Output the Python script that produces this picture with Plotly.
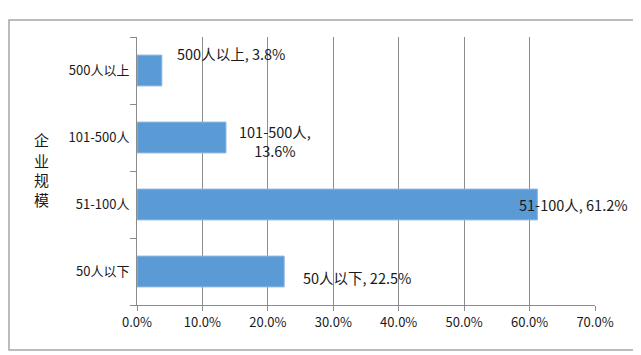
import plotly.graph_objects as go

categories = ["50人以下", "51-100人", "101-500人", "500人以上"]
values = [22.5, 61.2, 13.6, 3.8]
label_texts = ["50人以下, 22.5%", "51-100人, 61.2%", "101-500人,<br>13.6%", "500人以上, 3.8%"]
x_ticks = [0, 10, 20, 30, 40, 50, 60, 70]
x_tick_labels = ["0.0%", "10.0%", "20.0%", "30.0%", "40.0%", "50.0%", "60.0%", "70.0%"]
axis_title = "企业规模"

FONT = "Noto Sans CJK SC, Noto Sans, sans-serif"
# label placement offsets (style): (xanchor, xshift, yshift)
label_style = [("left", 17, -6), ("left", -20, 0), ("left", 11, -3), ("left", 13, 17)]

# figure size kept inside the viewport (page body has an 8px margin)
W, H = 633, 347
L, R, T, B = 129, 587, 29, 297
PW, PH = R - L, B - T

fig = go.Figure()
fig.add_trace(go.Bar(
    x=values, y=categories, orientation="h",
    marker=dict(color="#5B9BD5", line=dict(color="#8DB8E2", width=1)),
    hoverinfo="skip",
))

for cat, val, txt, (xa, xs, ys) in zip(categories, values, label_texts, label_style):
    fig.add_annotation(
        x=val, y=cat, xref="x", yref="y", text=txt, showarrow=False,
        xanchor=xa, xshift=xs, yshift=ys, align="center",
        font=dict(family=FONT, size=14.5, color="#1a1a1a"),
    )

# vertical axis title, one character per line
title_y_px = [131, 152, 172, 192]
for ch, ypx in zip(axis_title, title_y_px):
    fig.add_annotation(
        x=(33 - L) / PW, y=(B - ypx) / PH, xref="paper", yref="paper",
        text=ch, showarrow=False, xanchor="center", yanchor="middle",
        font=dict(family=FONT, size=15, color="#1a1a1a"),
    )

# outer chart border
fig.add_shape(type="rect", xref="paper", yref="paper",
              x0=(1 - L) / PW, x1=(626 - L) / PW,
              y0=(B - 342) / PH, y1=(B - 12) / PH,
              line=dict(color="#a6a6a6", width=1.5), layer="above")

fig.update_layout(
    width=W, height=H,
    margin=dict(l=L, r=W - R, t=T, b=H - B),
    paper_bgcolor="white", plot_bgcolor="white",
    bargap=0.54, showlegend=False,
    font=dict(family=FONT, size=13, color="#1a1a1a"),
)
fig.update_xaxes(
    range=[0, 70], tickvals=x_ticks, ticktext=x_tick_labels,
    showgrid=True, gridcolor="#8c8c8c", gridwidth=1,
    showline=True, linecolor="#8c8c8c", linewidth=1,
    ticks="outside", ticklen=5, tickcolor="#8c8c8c",
    zeroline=False, tickfont=dict(size=13),
)
fig.update_yaxes(
    categoryorder="array", categoryarray=categories,
    showline=True, linecolor="#8c8c8c", linewidth=1,
    ticks="outside", ticklen=6, tickcolor="#8c8c8c", tickson="boundaries",
    showgrid=False, tickfont=dict(size=13), ticklabelstandoff=4,
)

fig.write_html("out.html")
